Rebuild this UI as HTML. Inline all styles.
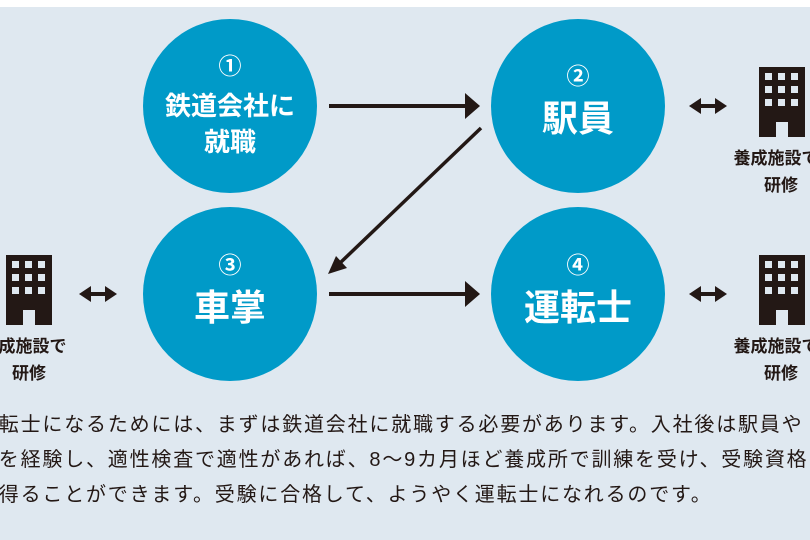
<!DOCTYPE html>
<html><head><meta charset="utf-8"><style>
body{margin:0;width:810px;height:540px;overflow:hidden;background:#fff;font-family:"Liberation Sans","Noto Sans CJK JP",sans-serif;}
#bg{position:absolute;left:0;top:7px;width:810px;height:533px;background:#dfe8f0;}
.t{position:absolute;white-space:nowrap;color:#231815;font-size:20px;letter-spacing:1.8px;left:-23px;}
</style></head><body>
<div id="bg"></div>
<svg width="810" height="540" style="position:absolute;left:0;top:0" font-family="Liberation Sans, Noto Sans CJK JP, sans-serif">
<defs>
<g id="bld"><rect x="0" y="0" width="46" height="70" fill="#231815"/>
<g fill="#dfe8f0">
<rect x="6" y="6" width="7" height="7"/><rect x="19" y="6" width="7" height="7"/><rect x="32" y="6" width="7" height="7"/>
<rect x="6" y="19" width="7" height="7"/><rect x="19" y="19" width="7" height="7"/><rect x="32" y="19" width="7" height="7"/>
<rect x="6" y="32" width="7" height="7"/><rect x="19" y="32" width="7" height="7"/><rect x="32" y="32" width="7" height="7"/>
<rect x="17" y="55" width="12" height="15"/></g></g>
<g id="dbl" fill="#231815"><rect x="8" y="-2" width="22" height="4"/><polygon points="0,0 12,-8 12,8"/><polygon points="38,0 26,-8 26,8"/></g>
</defs>
<g fill="#009ac8">
<circle cx="230" cy="106" r="87"/><circle cx="578" cy="106" r="87"/>
<circle cx="230" cy="294" r="87"/><circle cx="578" cy="294" r="87"/>
</g>
<g fill="#fff" font-weight="bold" text-anchor="middle">
<text x="230" y="74" font-size="23">①</text>
<text x="230" y="115" font-size="26">鉄道会社に</text>
<text x="230" y="151" font-size="26">就職</text>
<text x="578" y="84" font-size="23">②</text>
<text x="578" y="131" font-size="36">駅員</text>
<text x="230" y="273" font-size="23">③</text>
<text x="230" y="320" font-size="36">車掌</text>
<text x="578" y="273" font-size="23">④</text>
<text x="578" y="320" font-size="36">運転士</text>
</g>
<g stroke="#231815" stroke-width="4" fill="#231815">
<line x1="329" y1="106" x2="468" y2="106"/><polygon points="480,106 465,93 465,119" stroke="none"/>
<line x1="329" y1="294" x2="468" y2="294"/><polygon points="480,294 465,281 465,307" stroke="none"/>
<line x1="481" y1="128" x2="340" y2="263" stroke-width="3.5"/><polygon points="328,274 336,256 347,268" stroke="none"/>
</g>
<use href="#bld" x="759" y="67"/>
<use href="#bld" x="6" y="255"/>
<use href="#bld" x="759" y="255"/>
<use href="#dbl" x="689" y="106"/>
<use href="#dbl" x="79" y="294"/>
<use href="#dbl" x="689" y="294"/>
<g fill="#231815" font-weight="bold" font-size="17" text-anchor="middle">
<text x="776" y="164">養成施設で</text><text x="781" y="191">研修</text>
<text x="776" y="352">養成施設で</text><text x="781" y="379">研修</text>
<text x="24" y="352">養成施設で</text><text x="29" y="379">研修</text>
</g>
</svg>
<div class="t" style="top:408px">運転士になるためには、まずは鉄道会社に就職する必要があります。入社後は駅員や</div>
<div class="t" style="top:443px">どを経験し、適性検査で適性があれば、8〜9カ月ほど養成所で訓練を受け、受験資格</div>
<div class="t" style="top:478px">を得ることができます。受験に合格して、ようやく運転士になれるのです。</div>
</body></html>
